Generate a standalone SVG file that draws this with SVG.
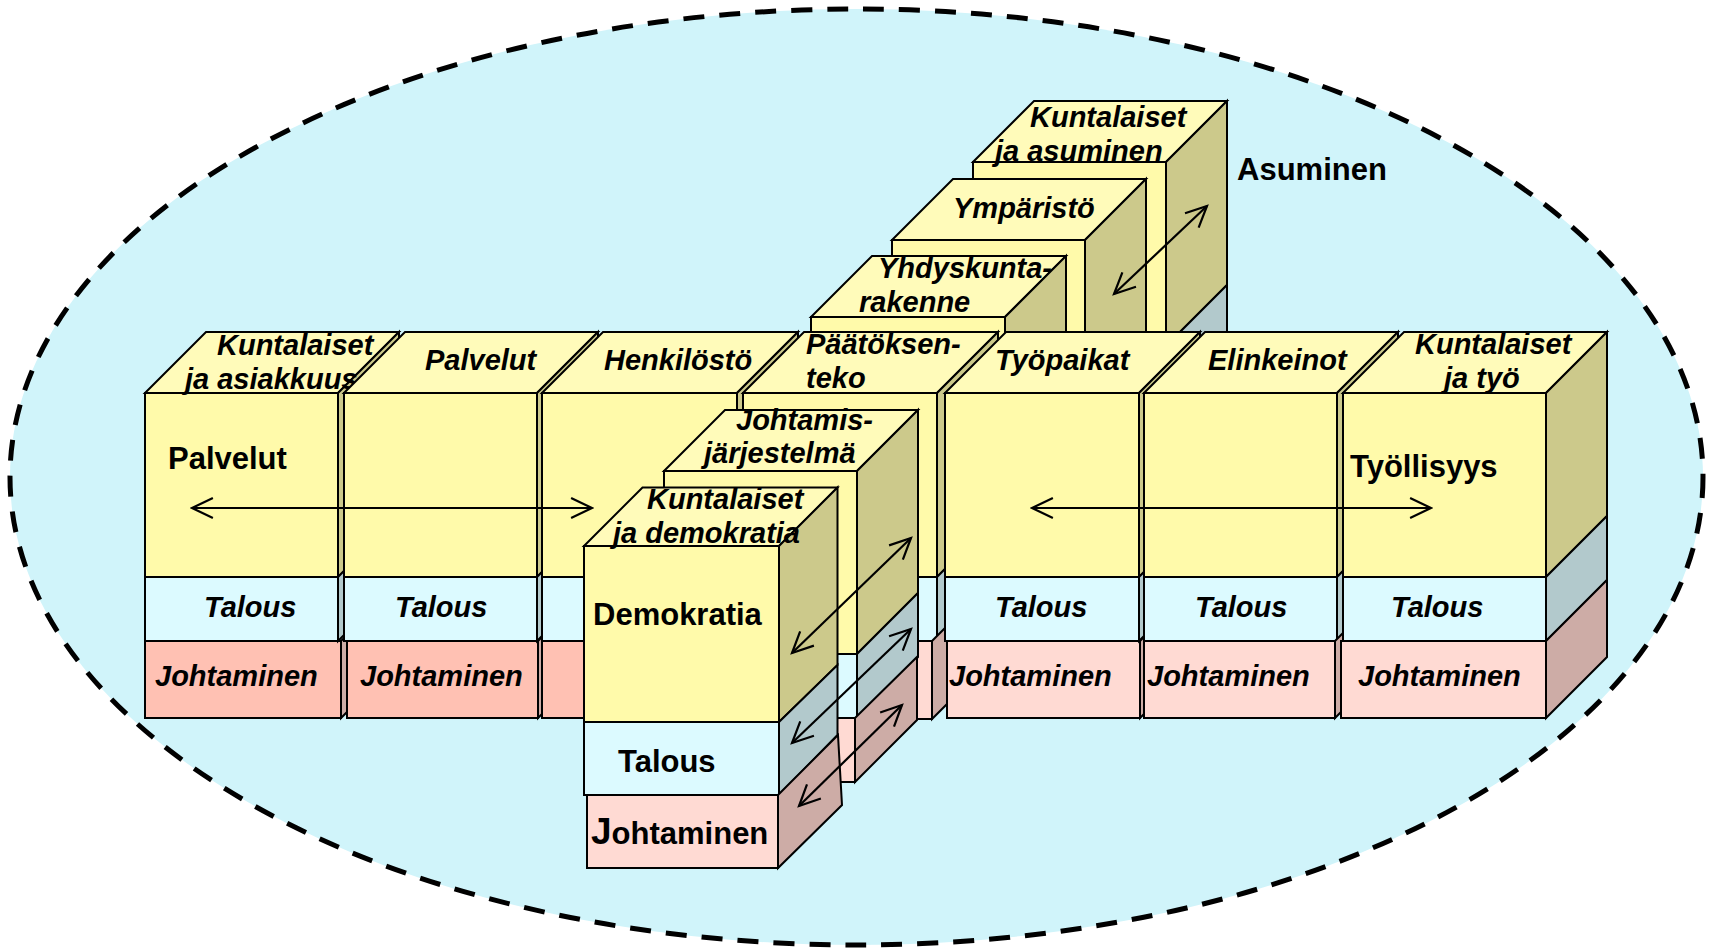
<svg xmlns="http://www.w3.org/2000/svg" width="1713" height="950" viewBox="0 0 1713 950">
<defs>
<style>
.f{stroke:#000;stroke-width:2;stroke-linejoin:miter}
.y{fill:#FFFAAA}
.t{fill:#FFFBBA}
.o{fill:#CCC98B}
.c{fill:#DCFAFF}
.b{fill:#B2C9CC}
.s{fill:#FFC1B3}
.p{fill:#FFDAD3}
.r{fill:#CDACA6}
text{font-family:"Liberation Sans",Arial,sans-serif;font-weight:bold;fill:#000}
.li{font-size:29px;font-style:italic}
.lb{font-size:31px}
.a{fill:none;stroke:#000;stroke-width:2.2}
</style>
<marker id="h" viewBox="0 0 12 12" refX="11" refY="6" markerWidth="12" markerHeight="12" orient="auto-start-reverse" markerUnits="strokeWidth">
<path d="M1.5,1.5 L11,6 L1.5,10.5" fill="none" stroke="#000" stroke-width="1"/>
</marker>
</defs>
<rect x="0" y="0" width="1713" height="950" fill="#fff"/>
<ellipse id="boundary" cx="856.5" cy="477" rx="846.5" ry="468" fill="#D0F4FA" stroke="#000" stroke-width="5" stroke-dasharray="21 15"/>

<g id="kuntalaiset-ja-asuminen">
<rect class="f y" x="973" y="162" width="193" height="184"/>
<rect class="f c" x="973" y="346" width="193" height="64"/>
<polygon class="f t" points="973,162 1034,101 1227,101 1166,162"/>
<polygon class="f o" points="1166,162 1227,101 1227,285 1166,346"/>
<polygon class="f b" points="1166,346 1227,285 1227,349 1166,410"/>
<text class="li" x="1030" y="127">Kuntalaiset</text>
<text class="li" x="995" y="161">ja asuminen</text>
</g>
<g id="ymparisto">
<rect class="f y" x="892" y="240" width="193" height="184"/>
<polygon class="f t" points="892,240 953,179 1146,179 1085,240"/>
<polygon class="f o" points="1085,240 1146,179 1146,363 1085,424"/>
<text class="li" x="953" y="218">Ympäristö</text>
</g>
<g id="yhdyskuntarakenne">
<rect class="f y" x="811" y="317" width="194" height="184"/>
<polygon class="f t" points="811,317 872,256 1066,256 1005,317"/>
<polygon class="f o" points="1005,317 1066,256 1066,440 1005,501"/>
<text class="li" x="878" y="278">Yhdyskunta-</text>
<text class="li" x="859" y="312">rakenne</text>
</g>

<g id="kuntalaiset-ja-asiakkuus">
<rect class="f y" x="145" y="393" width="193" height="184"/>
<rect class="f c" x="145" y="577" width="193" height="64"/>
<rect class="f s" x="145" y="641" width="196" height="77"/>
<polygon class="f t" points="145,393 206,332 399,332 338,393"/>
<polygon class="f o" points="338,393 399,332 399,516 338,577"/>
<polygon class="f b" points="338,577 399,516 399,580 338,641"/>
<polygon class="f r" points="341,641 402,580 402,657 341,718"/>
<text class="li" x="217" y="355">Kuntalaiset</text>
<text class="li" x="185" y="389">ja asiakkuus</text>
<text class="lb" x="168" y="469">Palvelut</text>
<text class="li" x="204" y="617">Talous</text>
<text class="li" x="155" y="686">Johtaminen</text>
</g>
<g id="palvelut">
<rect class="f y" x="344" y="393" width="193" height="184"/>
<rect class="f c" x="344" y="577" width="193" height="64"/>
<rect class="f s" x="347" y="641" width="191" height="77"/>
<polygon class="f t" points="344,393 405,332 598,332 537,393"/>
<polygon class="f o" points="537,393 598,332 598,516 537,577"/>
<polygon class="f b" points="537,577 598,516 598,580 537,641"/>
<polygon class="f r" points="538,641 599,580 599,657 538,718"/>
<text class="li" x="425" y="370">Palvelut</text>
<text class="li" x="395" y="617">Talous</text>
<text class="li" x="360" y="686">Johtaminen</text>
</g>
<g id="henkilosto">
<rect class="f y" x="542" y="393" width="195" height="184"/>
<rect class="f c" x="542" y="577" width="195" height="64"/>
<rect class="f s" x="542" y="641" width="195" height="77"/>
<polygon class="f t" points="542,393 603,332 798,332 737,393"/>
<polygon class="f o" points="737,393 798,332 798,516 737,577"/>
<polygon class="f b" points="737,577 798,516 798,580 737,641"/>
<polygon class="f r" points="737,641 798,580 798,657 737,718"/>
<text class="li" x="604" y="370">Henkilöstö</text>
</g>
<g id="paatoksenteko">
<rect class="f y" x="743" y="393" width="194" height="184"/>
<rect class="f c" x="743" y="577" width="194" height="64"/>
<rect class="f p" x="743" y="641" width="189" height="78"/>
<polygon class="f t" points="743,393 804,332 998,332 937,393"/>
<polygon class="f o" points="937,393 998,332 998,516 937,577"/>
<polygon class="f b" points="937,577 998,516 998,580 937,641"/>
<polygon class="f r" points="932,641 993,580 993,658 932,719"/>
<text class="li" x="806" y="354">Päätöksen-</text>
<text class="li" x="806" y="388">teko</text>
</g>
<g id="tyopaikat">
<rect class="f y" x="945" y="393" width="194" height="184"/>
<rect class="f c" x="945" y="577" width="194" height="64"/>
<rect class="f p" x="947" y="641" width="193" height="77"/>
<polygon class="f t" points="945,393 1006,332 1200,332 1139,393"/>
<polygon class="f o" points="1139,393 1200,332 1200,516 1139,577"/>
<polygon class="f b" points="1139,577 1200,516 1200,580 1139,641"/>
<polygon class="f r" points="1140,641 1201,580 1201,657 1140,718"/>
<text class="li" x="995" y="370">Työpaikat</text>
<text class="li" x="995" y="617">Talous</text>
<text class="li" x="949" y="686">Johtaminen</text>
</g>
<g id="elinkeinot">
<rect class="f y" x="1144" y="393" width="193" height="184"/>
<rect class="f c" x="1144" y="577" width="193" height="64"/>
<rect class="f p" x="1144" y="641" width="191" height="77"/>
<polygon class="f t" points="1144,393 1205,332 1398,332 1337,393"/>
<polygon class="f o" points="1337,393 1398,332 1398,516 1337,577"/>
<polygon class="f b" points="1337,577 1398,516 1398,580 1337,641"/>
<polygon class="f r" points="1335,641 1396,580 1396,657 1335,718"/>
<text class="li" x="1208" y="370">Elinkeinot</text>
<text class="li" x="1195" y="617">Talous</text>
<text class="li" x="1147" y="686">Johtaminen</text>
</g>
<g id="kuntalaiset-ja-tyo">
<rect class="f y" x="1343" y="393" width="203" height="184"/>
<rect class="f c" x="1343" y="577" width="203" height="64"/>
<rect class="f p" x="1341" y="641" width="205" height="77"/>
<polygon class="f t" points="1343,393 1404,332 1607,332 1546,393"/>
<polygon class="f o" points="1546,393 1607,332 1607,516 1546,577"/>
<polygon class="f b" points="1546,577 1607,516 1607,580 1546,641"/>
<polygon class="f r" points="1546,641 1607,580 1607,657 1546,718"/>
<text class="li" x="1415" y="354">Kuntalaiset</text>
<text class="li" x="1444" y="388">ja työ</text>
<text class="lb" x="1350" y="477">Työllisyys</text>
<text class="li" x="1391" y="617">Talous</text>
<text class="li" x="1358" y="686">Johtaminen</text>
</g>
<g id="asuminen-label">
<text class="lb" x="1237" y="180">Asuminen</text>
</g>

<g id="johtamisjarjestelma">
<rect class="f y" x="664" y="471" width="193" height="183"/>
<rect class="f c" x="664" y="654" width="193" height="64"/>
<rect class="f p" x="664" y="718" width="191" height="64"/>
<polygon class="f t" points="664,471 725,410 918,410 857,471"/>
<polygon class="f o" points="857,471 918,410 918,593 857,654"/>
<polygon class="f b" points="857,654 918,593 918,657 857,718"/>
<polygon class="f r" points="855,718 917,657 917,720 855,782"/>
<text class="li" x="736" y="430">Johtamis-</text>
<text class="li" x="704" y="463">järjestelmä</text>
</g>
<g id="kuntalaiset-ja-demokratia">
<rect class="f y" x="584" y="546" width="195" height="176"/>
<rect class="f c" x="584" y="722" width="195" height="73"/>
<rect class="f p" x="587" y="795" width="191" height="73"/>
<polygon class="f t" points="584,546 642.5,487.5 837.5,487.5 779,546"/>
<polygon class="f o" points="779,546 837.5,487.5 837.5,665 779,722"/>
<polygon class="f b" points="779,722 837.5,665 837.5,735 779,795"/>
<polygon class="f r" points="778,795 838,735 842,805 778,868"/>
<text class="li" x="647" y="509">Kuntalaiset</text>
<text class="li" x="613" y="543">ja demokratia</text>
<text class="lb" x="593" y="625">Demokratia</text>
<text class="lb" x="618" y="772">Talous</text>
<text class="lb" x="591" y="844"><tspan font-size="37">J</tspan>ohtaminen</text>
</g>

<g id="connectors">
<line class="a" x1="192" y1="508" x2="592" y2="508" marker-start="url(#h)" marker-end="url(#h)"/>
<line class="a" x1="1032" y1="508" x2="1431" y2="508" marker-start="url(#h)" marker-end="url(#h)"/>
<line class="a" x1="1114" y1="294" x2="1207" y2="206" marker-start="url(#h)" marker-end="url(#h)"/>
<line class="a" x1="792" y1="653" x2="911" y2="538" marker-start="url(#h)" marker-end="url(#h)"/>
<line class="a" x1="792" y1="743" x2="911" y2="629" marker-start="url(#h)" marker-end="url(#h)"/>
<line class="a" x1="799" y1="806" x2="902" y2="705" marker-start="url(#h)" marker-end="url(#h)"/>
</g>
</svg>
